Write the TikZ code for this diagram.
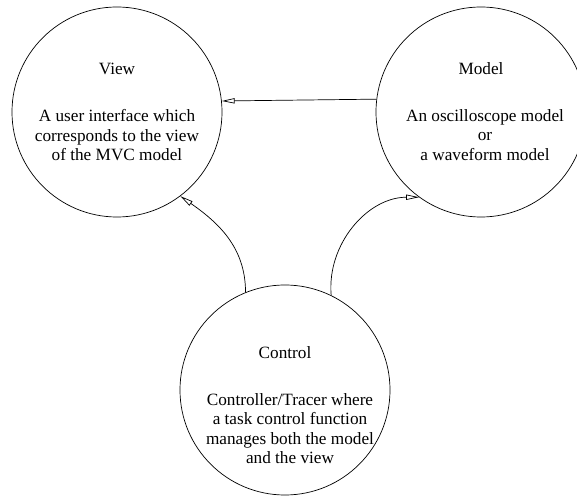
\documentclass[tikz,border=0pt]{standalone}
\usepackage{fontspec}
\setmainfont{Liberation Serif}
\usetikzlibrary{arrows.meta}

\begin{document}
\begin{tikzpicture}[x=0.03cm,y=0.03cm,
    part/.style={circle,draw,line width=0.6pt,inner sep=0pt,minimum size=6.3cm},
    txt/.style={font=\fontsize{14.7}{16.6}\selectfont,align=center,inner sep=0pt},
    flow/.style={line width=0.6pt,-{Triangle[open,length=11pt,width=4.5pt]}}]
    \useasboundingbox (0,0) rectangle (577,496);

    \node[part] (view) at (117,384) {};
    \node[part] (model) at (481,384) {};
    \node[part] (ctrl) at (285,106) {};

    \node[txt,anchor=base] (viewname) at (117,421) {View};
    \node[txt,anchor=north] (viewtext) at (117,386.7) {A user interface which\\corresponds to the view\\of the MVC model};
    \node[txt,anchor=base] (modelname) at (481,421) {Model};
    \node[txt,anchor=north] (modeltext) at (485,386.7) {An oscilloscope model\\or\\a waveform model};
    \node[txt,anchor=base] (ctrlname) at (285,137) {Control};
    \node[txt,anchor=north] (ctrltext) at (290,102.7) {Controller/Tracer where\\a task control function\\manages both the model\\and the view};

    \draw[flow] (model.173.5) -- (view.6.5);
    \draw[flow] (ctrl.112) to[out=90,in=-35] (view.-53);
    \draw[flow] (ctrl.64) to[out=95,in=180] (model.234);
\end{tikzpicture}
\end{document}
